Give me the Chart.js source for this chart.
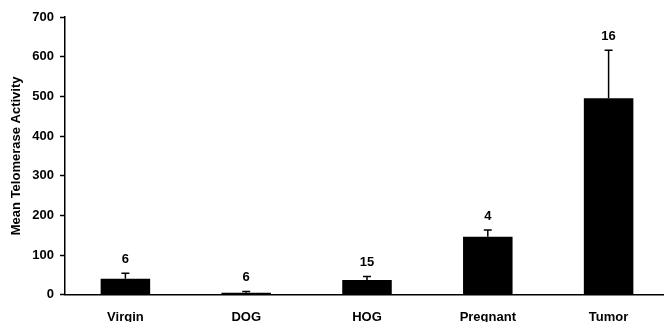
<!DOCTYPE html>
<html>
<head>
<meta charset="utf-8">
<script src="https://cdn.jsdelivr.net/npm/chart.js@4"></script>
<style>
  html, body { margin: 0; padding: 0; background: #fff; overflow: hidden; }
  #wrap { width: 664px; height: 322px; overflow: hidden; }
</style>
</head>
<body>
<div id="wrap"><canvas id="c" width="669" height="322"></canvas></div>
<script>
const categories = ['Virgin', 'DOG', 'HOG', 'Pregnant', 'Tumor'];
const meanActivity = [40, 5, 37, 146, 495];
const errorUpper = [14, 3, 9, 17, 121];
const sampleSizes = [6, 6, 15, 4, 16];
const yTicks = [0, 100, 200, 300, 400, 500, 600, 700];

const FONT = '"Liberation Sans", Arial, Helvetica, sans-serif';

const errorPlugin = {
  id: 'errorBars',
  afterDatasetsDraw(chart) {
    const ctx = chart.ctx;
    const meta = chart.getDatasetMeta(0);
    const ys = chart.scales.y;
    ctx.save();
    ctx.strokeStyle = '#000';
    ctx.lineWidth = 1.5;
    ctx.fillStyle = '#000';
    ctx.font = 'bold 13px ' + FONT;
    ctx.textAlign = 'center';
    ctx.textBaseline = 'middle';
    meta.data.forEach((bar, i) => {
      const x = bar.x;
      const yTop = ys.getPixelForValue(meanActivity[i]);
      const yErr = ys.getPixelForValue(meanActivity[i] + errorUpper[i]);
      ctx.beginPath();
      ctx.moveTo(x, yTop);
      ctx.lineTo(x, yErr);
      ctx.moveTo(x - 4, yErr);
      ctx.lineTo(x + 4, yErr);
      ctx.stroke();
      ctx.fillText(String(sampleSizes[i]), x, yErr - 14);
    });
    ctx.restore();
  }
};

new Chart(document.getElementById('c'), {
  type: 'bar',
  data: {
    labels: categories,
    datasets: [{
      data: meanActivity,
      backgroundColor: '#000',
      borderWidth: 0,
      barPercentage: 0.41,
      categoryPercentage: 1.0
    }]
  },
  options: {
    responsive: false,
    animation: false,
    devicePixelRatio: 1,
    layout: { padding: { top: 17, right: 0, bottom: 0, left: 0 } },
    plugins: { legend: { display: false }, tooltip: { enabled: false } },
    scales: {
      x: {
        offset: true,
        grid: { display: false, drawTicks: false },
        border: { display: true, color: '#000', width: 1.5 },
        ticks: { color: '#000', font: { family: FONT, size: 13, weight: 'bold' }, padding: 15, maxRotation: 0 },
        afterFit(scale) { scale.height = 27.3; }
      },
      y: {
        min: 0,
        max: 700,
        afterBuildTicks(scale) { scale.ticks = yTicks.map(v => ({ value: v })); },
        grid: { drawOnChartArea: false, drawTicks: true, tickLength: 5, color: '#000', tickColor: '#000', tickWidth: 1.5 },
        border: { display: true, color: '#000', width: 1.5 },
        ticks: { color: '#000', font: { family: FONT, size: 13, weight: 'bold' }, padding: 6 },
        title: {
          display: true,
          text: 'Mean Telomerase Activity',
          color: '#000',
          font: { family: FONT, size: 13, weight: 'bold' },
          padding: { top: 9, bottom: 0 }
        },
        afterFit(scale) { scale.width = 65; }
      }
    }
  },
  plugins: [errorPlugin]
});
</script>
</body>
</html>
